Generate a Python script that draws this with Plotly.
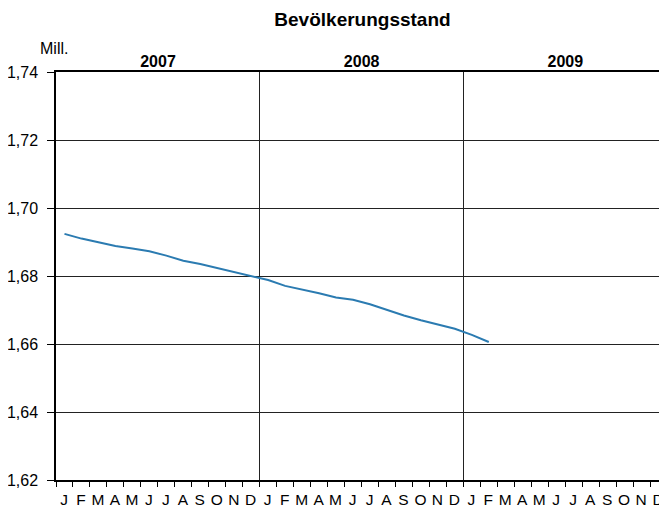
import plotly.graph_objects as go

# Bevölkerungsstand in Mill., monthly Jan 2007 - Feb 2009
years = ["2007", "2008", "2009"]
month_letters = ["J", "F", "M", "A", "M", "J", "J", "A", "S", "O", "N", "D"]
population = [1.6924, 1.6910, 1.6899, 1.6888, 1.6881, 1.6873, 1.6860, 1.6845,
              1.6835, 1.6823, 1.6810, 1.6800,
              1.6788, 1.6771, 1.6761, 1.6749, 1.6737, 1.6730, 1.6717, 1.6700,
              1.6684, 1.6670, 1.6657, 1.6645,
              1.6627, 1.6606]
y_ticks = [1.62, 1.64, 1.66, 1.68, 1.70, 1.72, 1.74]

# the page body adds an 8px margin, so the figure is 8px smaller on each side
W, H = 659, 501
L, R, T, B = 48, 0, 64, 29
n_months = len(month_letters) * len(years)
month_labels = month_letters * len(years)
month_pos = list(range(n_months))
month_starts = [i - 0.5 for i in range(n_months)]
year_starts = [12 * k - 0.5 for k in range(len(years))]
x_range = [-0.5, n_months - 0.5]
px_per_month = (W - L - R) / n_months

FONT = "Liberation Sans, Arial, sans-serif"
GRID = "#222222"

fig = go.Figure()
fig.add_trace(go.Scatter(x=month_pos[:len(population)], y=population, mode="lines",
                         line=dict(color="#2b7bb1", width=2), showlegend=False,
                         hoverinfo="skip"))
# same series on the top axis so that it is drawn (invisible)
fig.add_trace(go.Scatter(x=month_pos[:len(population)], y=population, mode="lines",
                         xaxis="x2", line=dict(color="rgba(0,0,0,0)", width=0),
                         showlegend=False, hoverinfo="skip"))

fig.update_layout(
    width=W, height=H,
    margin=dict(l=L, r=R, t=T, b=B),
    paper_bgcolor="white", plot_bgcolor="white",
    separators=",.",
    font=dict(family=FONT, size=16, color="black"),
    title=dict(text="<b>Bevölkerungsstand</b>", x=354.5 / W,
               xanchor="center", xref="container", y=1 - 11 / H, yanchor="middle",
               yref="container", font=dict(size=19)),
    xaxis=dict(range=x_range, tickmode="array", tickvals=month_starts,
               ticktext=month_labels, ticks="outside", ticklen=5, tickcolor="black",
               tickwidth=1, ticklabelshift=round(px_per_month / 2), ticklabelstandoff=0,
               showgrid=False, zeroline=False, automargin=False,
               showline=True, linecolor="black", linewidth=1.5,
               tickfont=dict(size=15.5)),
    xaxis2=dict(range=x_range, overlaying="x", side="top", tickmode="array",
                tickvals=year_starts, ticktext=["<b>%s</b>" % y for y in years],
                ticks="", ticklabelshift=round(px_per_month * 6), ticklabelstandoff=-3,
                automargin=False,
                showgrid=True, gridcolor=GRID, gridwidth=1, zeroline=False,
                showline=True, linecolor="black", linewidth=2,
                tickfont=dict(size=16)),
    yaxis=dict(range=[1.62, 1.74], tickmode="array", tickvals=y_ticks,
               tickformat=".2f", ticks="outside", ticklen=7, tickcolor="black",
               ticklabelstandoff=6, automargin=False,
               showline=True, linecolor="black", linewidth=1.5,
               showgrid=True, gridcolor=GRID, gridwidth=1, zeroline=False,
               tickfont=dict(size=16)),
)

fig.add_annotation(text="Mill.", xref="paper", yref="paper",
                   x=(46 - L) / (W - L - R), y=1 + 23 / (H - T - B), xanchor="center",
                   yanchor="middle", showarrow=False, font=dict(size=16))

fig.write_html("out.html")
